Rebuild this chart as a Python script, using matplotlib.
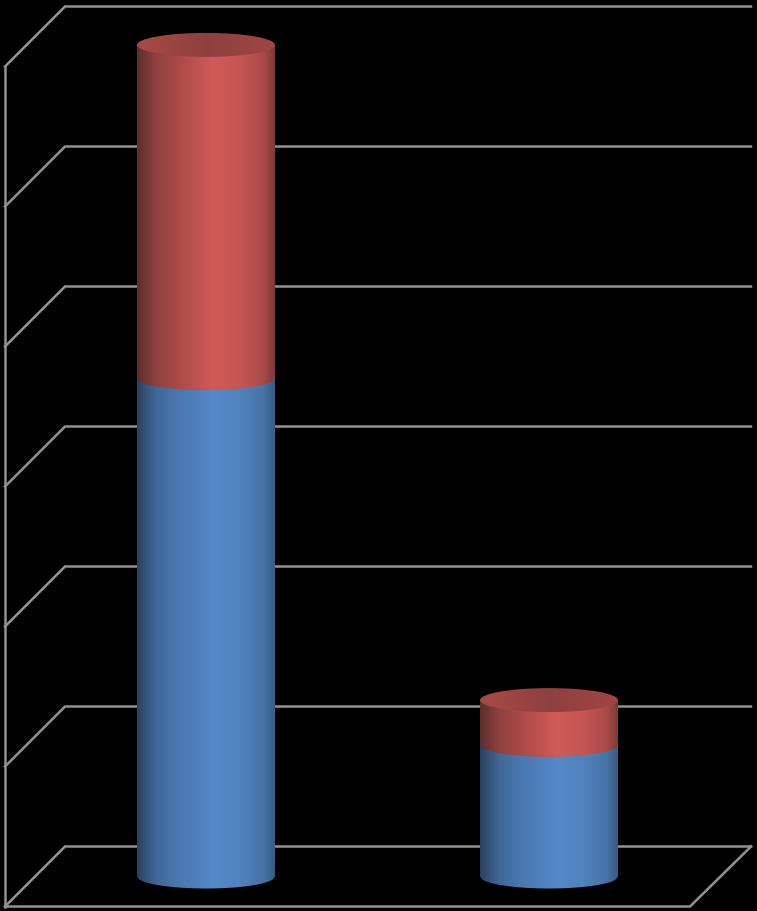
import numpy as np
import matplotlib
matplotlib.use("Agg")
import matplotlib.pyplot as plt
from matplotlib.colors import LinearSegmentedColormap
from matplotlib.patches import Polygon, Ellipse

# values (one grid step = 10 units)
categories = ["A", "B"]
blue_values = [35.6, 9.4]
red_values = [23.8, 3.2]
grid_values = [0, 10, 20, 30, 40, 50, 60]

px_per_unit = 14.0
depth = 30 / px_per_unit   # half the wall depth, in data units
bar_w = 138
bar_centers = [206, 549]
ell_h = 12 / px_per_unit   # half height of the cylinder ellipses
grid_color = "#929292"

blue_cmap = LinearSegmentedColormap.from_list("blue", [
    (0.00, "#29405f"), (0.06, "#345378"), (0.14, "#3f6896"), (0.30, "#4a78b0"),
    (0.55, "#5488c8"), (0.75, "#5083bf"), (0.92, "#4672a5"), (1.00, "#375b83")])
red_cmap = LinearSegmentedColormap.from_list("red", [
    (0.00, "#5c2e2d"), (0.06, "#723735"), (0.14, "#8f423f"), (0.30, "#ab4a47"),
    (0.55, "#d05b57"), (0.75, "#c55653"), (0.92, "#a84a47"), (1.00, "#7e3a38")])
top_cmap = LinearSegmentedColormap.from_list("top", [
    (0.00, "#a84a47"), (0.50, "#8f403e"), (1.00, "#a04643")])


def front_arc(x0, y, n=60):
    t = np.linspace(-1, 1, n)
    return np.column_stack([x0 + t * bar_w / 2, y - ell_h * np.sqrt(1 - t ** 2)])


def draw_segment(ax, x0, y0, y1, cmap):
    # side of the cylinder: horizontal gradient clipped to the outline
    grad = np.linspace(0, 1, 256).reshape(1, -1)
    im = ax.imshow(grad, cmap=cmap, aspect="auto", zorder=3,
                   extent=(x0 - bar_w / 2, x0 + bar_w / 2, y0 - 2 * ell_h, y1 + ell_h))
    arc = front_arc(x0, y0)
    outline = np.vstack([arc, [[x0 + bar_w / 2, y1], [x0 - bar_w / 2, y1]]])
    clip = Polygon(outline, closed=True, transform=ax.transData)
    im.set_clip_path(clip)


fig = plt.figure(figsize=(7.57, 9.12), dpi=100, facecolor="black")
ax = fig.add_axes([0, 0, 1, 1])
ax.set_facecolor("black")
ax.axis("off")

# walls and gridlines
x_left, x_back, x_right, x_front_right = 5, 65, 751, 690
for v in grid_values:
    ax.plot([x_left, x_back, x_right], [v - depth, v + depth, v + depth],
            color=grid_color, lw=1.8, solid_joinstyle="miter", zorder=1)
ax.plot([x_left, x_left], [grid_values[0] - depth, grid_values[-1] - depth],
        color=grid_color, lw=1.8, zorder=1)
ax.plot([x_left, x_front_right, x_right],
        [grid_values[0] - depth, grid_values[0] - depth, grid_values[0] + depth],
        color=grid_color, lw=1.8, solid_joinstyle="miter", zorder=1)

# stacked cylinders
for x0, blue, red in zip(bar_centers, blue_values, red_values):
    top = blue + red
    draw_segment(ax, x0, 0, blue + 1, blue_cmap)
    draw_segment(ax, x0, blue, top, red_cmap)
    grad = np.linspace(0, 1, 256).reshape(1, -1)
    im = ax.imshow(grad, cmap=top_cmap, aspect="auto", zorder=4,
                   extent=(x0 - bar_w / 2, x0 + bar_w / 2, top - ell_h, top + ell_h))
    im.set_clip_path(Ellipse((x0, top), bar_w, 2 * ell_h, transform=ax.transData))

# pixel rows map to values so that 0 sits at row 877.5
ax.set_xlim(0, 757)
ax.set_ylim(-(912 - 877.5) / px_per_unit, 877.5 / px_per_unit)

fig.savefig("out.png", dpi=100, facecolor="black")
